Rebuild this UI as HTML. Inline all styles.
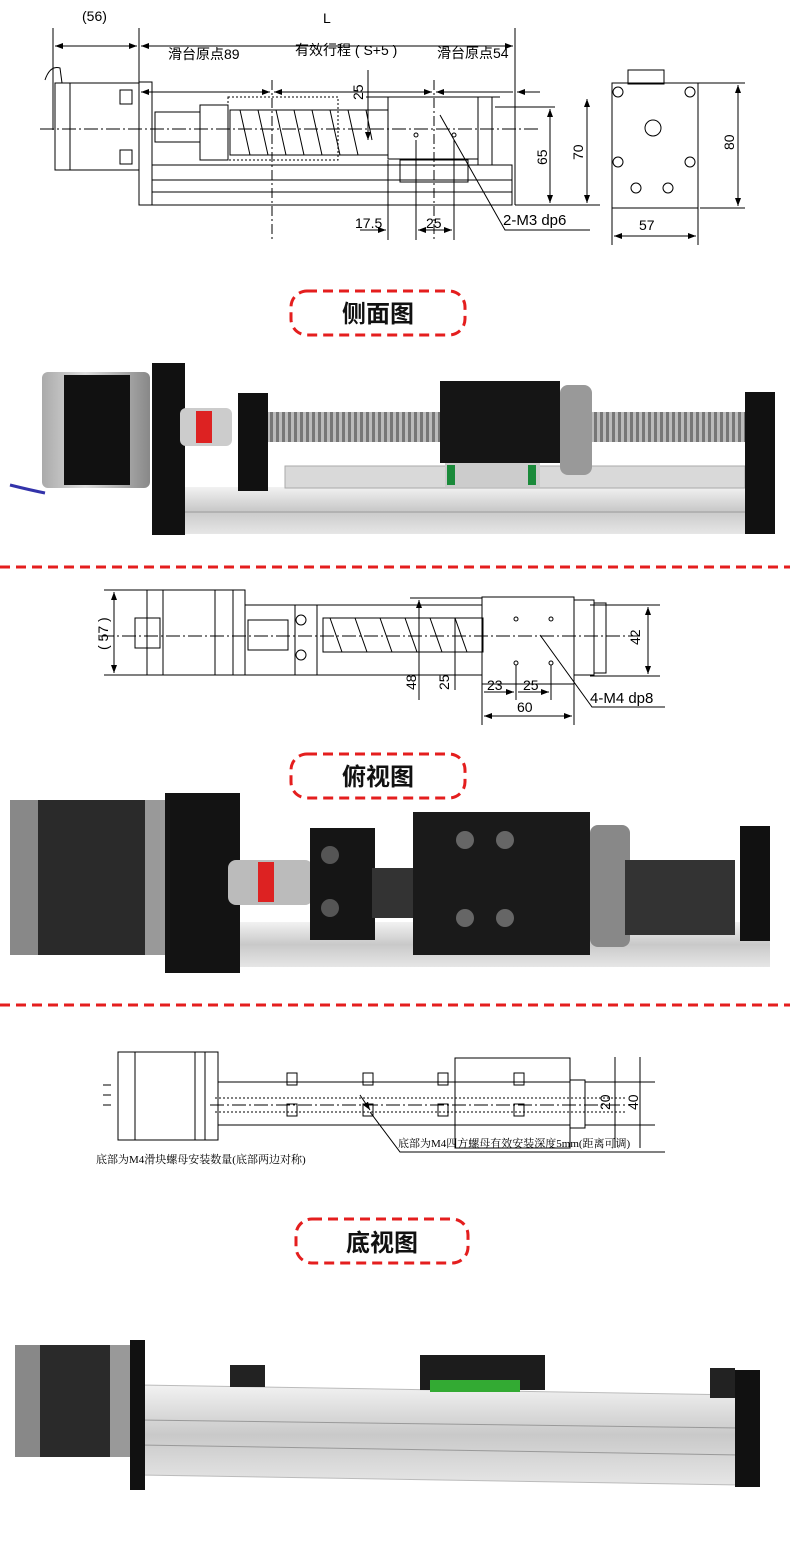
<!DOCTYPE html>
<html><head><meta charset="utf-8"><style>
body{margin:0;background:#fff;}
svg{display:block;font-family:"Liberation Sans","Noto Sans CJK SC",sans-serif;}
</style></head><body>
<svg width="790" height="1557" viewBox="0 0 790 1557" xmlns="http://www.w3.org/2000/svg">
<defs>
<marker id="a" markerWidth="8" markerHeight="6" refX="8" refY="3" orient="auto-start-reverse"><path d="M0,0L8,3L0,6z" fill="#000"/></marker>
<linearGradient id="al" x1="0" y1="0" x2="0" y2="1"><stop offset="0" stop-color="#f2f2f2"/><stop offset="0.5" stop-color="#c9c9c9"/><stop offset="1" stop-color="#e6e6e6"/></linearGradient>
<linearGradient id="mt" x1="0" y1="0" x2="1" y2="0"><stop offset="0" stop-color="#aaa"/><stop offset="0.4" stop-color="#ddd"/><stop offset="1" stop-color="#888"/></linearGradient>
<pattern id="sc" width="6" height="30" patternUnits="userSpaceOnUse"><rect width="6" height="30" fill="#bbb"/><rect width="3" height="30" fill="#777"/></pattern>
</defs>
<g fill="none" stroke="#000" stroke-width="1">
<!-- TOP DRAWING -->
<line x1="53" y1="28" x2="53" y2="130"/><line x1="139" y1="28" x2="139" y2="125"/><line x1="515" y1="28" x2="515" y2="205"/>
<line x1="55" y1="46" x2="137" y2="46" marker-start="url(#a)" marker-end="url(#a)"/>
<line x1="141" y1="46" x2="513" y2="46" marker-start="url(#a)" marker-end="url(#a)"/>
<line x1="141" y1="92" x2="270" y2="92" marker-start="url(#a)" marker-end="url(#a)"/>
<line x1="274" y1="92" x2="432" y2="92" marker-start="url(#a)" marker-end="url(#a)"/>
<line x1="436" y1="92" x2="513" y2="92" marker-start="url(#a)"/><line x1="517" y1="92" x2="540" y2="92" marker-start="url(#a)"/>
<line x1="272" y1="80" x2="272" y2="240" stroke-dasharray="10,3,2,3"/>
<line x1="434" y1="80" x2="434" y2="240" stroke-dasharray="10,3,2,3"/>
<line x1="40" y1="129" x2="540" y2="129" stroke-dasharray="14,3,2,3"/>
<rect x="55" y="83" width="84" height="87"/><line x1="70" y1="83" x2="70" y2="170"/><rect x="120" y="90" width="12" height="14"/><rect x="120" y="150" width="12" height="14"/>
<path d="M45,80 Q50,65 60,68 L62,83"/>
<rect x="139" y="82" width="13" height="123"/>
<rect x="155" y="112" width="45" height="30"/><rect x="200" y="105" width="28" height="55"/>
<rect x="228" y="97" width="110" height="63" stroke-dasharray="2,2"/>
<rect x="230" y="110" width="158" height="45"/>
<path d="M240,110l10,45M258,110l10,45M276,110l10,45M294,110l10,45M312,110l10,45M330,110l10,45M348,110l10,45M366,110l6,30"/>
<rect x="388" y="97" width="90" height="62"/><rect x="478" y="97" width="14" height="68"/>
<rect x="400" y="160" width="68" height="22"/>
<rect x="152" y="165" width="360" height="40"/><line x1="152" y1="180" x2="512" y2="180"/><line x1="152" y1="192" x2="512" y2="192"/>
<line x1="366" y1="97" x2="500" y2="97"/><line x1="495" y1="107" x2="555" y2="107"/><line x1="515" y1="205" x2="600" y2="205"/>
<line x1="550" y1="109" x2="550" y2="203" marker-start="url(#a)" marker-end="url(#a)"/>
<line x1="587" y1="99" x2="587" y2="203" marker-start="url(#a)" marker-end="url(#a)"/>
<line x1="368" y1="70" x2="368" y2="140" marker-end="url(#a)"/>
<line x1="388" y1="160" x2="388" y2="240"/><line x1="416" y1="140" x2="416" y2="240"/><line x1="454" y1="140" x2="454" y2="240"/>
<line x1="360" y1="230" x2="386" y2="230" marker-end="url(#a)"/><line x1="418" y1="230" x2="452" y2="230" marker-start="url(#a)" marker-end="url(#a)"/>
<circle cx="416" cy="135" r="2"/><circle cx="454" cy="135" r="2"/>
<path d="M440,115 L505,230 L590,230"/>
<rect x="612" y="83" width="86" height="125"/><rect x="628" y="70" width="36" height="14"/>
<circle cx="618" cy="92" r="5"/><circle cx="690" cy="92" r="5"/><circle cx="618" cy="162" r="5"/><circle cx="690" cy="162" r="5"/>
<circle cx="653" cy="128" r="8"/><circle cx="636" cy="188" r="5"/><circle cx="668" cy="188" r="5"/>
<line x1="698" y1="83" x2="745" y2="83"/><line x1="700" y1="208" x2="745" y2="208"/>
<line x1="738" y1="85" x2="738" y2="206" marker-start="url(#a)" marker-end="url(#a)"/>
<line x1="612" y1="208" x2="612" y2="245"/><line x1="698" y1="208" x2="698" y2="245"/>
<line x1="614" y1="236" x2="696" y2="236" marker-start="url(#a)" marker-end="url(#a)"/>
</g>
<g font-size="14" fill="#000">
<text x="82" y="21">(56)</text><text x="323" y="23">L</text>
<text x="168" y="59">滑台原点89</text><text x="295" y="55">有效行程 ( S+5 )</text><text x="437" y="58">滑台原点54</text>
<text x="355" y="228">17.5</text><text x="426" y="228">25</text><text x="503" y="225" font-size="15">2-M3 dp6</text>
<text x="639" y="230">57</text>
<text transform="translate(363,100) rotate(-90)">25</text>
<text transform="translate(547,165) rotate(-90)">65</text>
<text transform="translate(583,160) rotate(-90)">70</text>
<text transform="translate(734,150) rotate(-90)">80</text>
</g>

<!-- LABEL BOXES -->
<g fill="none" stroke="#e41e1e" stroke-width="3" stroke-dasharray="10,6">
<rect x="291" y="291" width="174" height="44" rx="16"/>
<rect x="291" y="754" width="174" height="44" rx="16"/>
<rect x="296" y="1219" width="172" height="44" rx="16"/>
<line x1="0" y1="567" x2="790" y2="567"/>
<line x1="0" y1="1005" x2="790" y2="1005"/>
</g>
<g font-size="24" font-weight="bold" fill="#111" text-anchor="middle">
<text x="378" y="322">侧面图</text><text x="378" y="785">俯视图</text><text x="382" y="1251">底视图</text>
</g>

<!-- PHOTO 1 -->
<rect x="175" y="487" width="585" height="47" fill="url(#al)"/>
<line x1="175" y1="512" x2="760" y2="512" stroke="#999"/>
<rect x="285" y="466" width="460" height="22" fill="#d9d9d9" stroke="#aaa"/>
<rect x="42" y="372" width="108" height="116" fill="url(#mt)" rx="6"/>
<rect x="64" y="375" width="66" height="110" fill="#111"/>
<rect x="152" y="363" width="33" height="172" fill="#111"/>
<rect x="180" y="408" width="52" height="38" fill="#ccc" rx="6"/><rect x="196" y="411" width="16" height="32" fill="#d22"/>
<rect x="238" y="393" width="30" height="98" fill="#111"/>
<rect x="268" y="412" width="172" height="30" fill="url(#sc)"/>
<rect x="592" y="412" width="153" height="30" fill="url(#sc)"/>
<rect x="440" y="381" width="120" height="82" fill="#151515"/>
<rect x="560" y="385" width="32" height="90" fill="#999" rx="8"/>
<rect x="445" y="463" width="95" height="24" fill="#ccc"/><rect x="447" y="465" width="8" height="20" fill="#1a8a3a"/><rect x="528" y="465" width="8" height="20" fill="#1a8a3a"/>
<rect x="745" y="392" width="30" height="142" fill="#111"/>
<path d="M10,485 Q30,490 45,493" stroke="#33a" stroke-width="3" fill="none"/>

<!-- TOP VIEW DRAWING -->
<g fill="none" stroke="#000">
<line x1="104" y1="590" x2="148" y2="590"/><line x1="104" y1="675" x2="148" y2="675"/>
<line x1="114" y1="592" x2="114" y2="673" marker-start="url(#a)" marker-end="url(#a)"/>
<rect x="147" y="590" width="98" height="85"/><line x1="163" y1="590" x2="163" y2="675"/><line x1="215" y1="590" x2="215" y2="675"/><line x1="233" y1="590" x2="233" y2="675"/>
<rect x="135" y="618" width="25" height="30"/>
<rect x="245" y="605" width="237" height="70"/><rect x="295" y="605" width="22" height="70"/>
<circle cx="301" cy="620" r="5"/><circle cx="301" cy="655" r="5"/>
<rect x="248" y="620" width="40" height="30"/>
<rect x="323" y="618" width="160" height="34"/>
<path d="M330,618l12,34M355,618l12,34M380,618l12,34M405,618l12,34M430,618l12,34M455,618l12,34"/>
<rect x="482" y="597" width="92" height="87"/><rect x="574" y="600" width="20" height="75"/><rect x="594" y="603" width="12" height="70"/>
<line x1="100" y1="636" x2="640" y2="636" stroke-dasharray="14,3,2,3"/>
<circle cx="516" cy="619" r="2"/><circle cx="551" cy="619" r="2"/><circle cx="516" cy="663" r="2"/><circle cx="551" cy="663" r="2"/>
<line x1="410" y1="598" x2="482" y2="598"/>
<line x1="419" y1="600" x2="419" y2="700" marker-start="url(#a)"/><line x1="455" y1="618" x2="455" y2="690"/>
<line x1="590" y1="605" x2="660" y2="605"/><line x1="590" y1="676" x2="660" y2="676"/>
<line x1="648" y1="607" x2="648" y2="674" marker-start="url(#a)" marker-end="url(#a)"/>
<line x1="482" y1="684" x2="482" y2="725"/><line x1="574" y1="684" x2="574" y2="725"/><line x1="516" y1="665" x2="516" y2="700"/><line x1="551" y1="665" x2="551" y2="700"/>
<line x1="484" y1="692" x2="514" y2="692" marker-end="url(#a)"/><line x1="518" y1="692" x2="549" y2="692" marker-end="url(#a)"/>
<line x1="484" y1="716" x2="572" y2="716" marker-start="url(#a)" marker-end="url(#a)"/>
<path d="M540,635 L592,707 L665,707"/>
</g>
<g font-size="14" fill="#000">
<text transform="translate(108,650) rotate(-90)">( 57 )</text>
<text transform="translate(416,690) rotate(-90)">48</text><text transform="translate(449,690) rotate(-90)">25</text>
<text transform="translate(640,645) rotate(-90)">42</text>
<text x="487" y="690">23</text><text x="523" y="690">25</text><text x="517" y="712">60</text>
<text x="590" y="703" font-size="15">4-M4 dp8</text>
</g>

<!-- PHOTO 2 -->
<rect x="240" y="922" width="530" height="45" fill="url(#al)" transform="skewY(0)"/>
<rect x="10" y="800" width="165" height="155" fill="#2a2a2a" rx="6"/>
<rect x="10" y="800" width="28" height="155" fill="#888"/><rect x="145" y="800" width="30" height="155" fill="#999"/>
<rect x="165" y="793" width="75" height="180" fill="#131313"/>
<rect x="228" y="860" width="85" height="45" fill="#bbb" rx="8"/><rect x="258" y="862" width="16" height="40" fill="#d22"/>
<rect x="310" y="828" width="65" height="112" fill="#151515"/>
<circle cx="330" cy="855" r="9" fill="#555"/><circle cx="330" cy="908" r="9" fill="#555"/>
<rect x="372" y="868" width="42" height="50" fill="#333"/>
<rect x="413" y="812" width="177" height="143" fill="#1a1a1a"/>
<circle cx="465" cy="840" r="9" fill="#666"/><circle cx="505" cy="840" r="9" fill="#666"/><circle cx="465" cy="918" r="9" fill="#666"/><circle cx="505" cy="918" r="9" fill="#666"/>
<rect x="590" y="825" width="40" height="122" fill="#888" rx="8"/>
<rect x="625" y="860" width="110" height="75" fill="#333"/>
<rect x="740" y="826" width="30" height="115" fill="#111"/>

<!-- BOTTOM DRAWING -->
<g fill="none" stroke="#000">
<rect x="118" y="1052" width="100" height="88"/><line x1="135" y1="1052" x2="135" y2="1140"/><line x1="195" y1="1052" x2="195" y2="1140"/><line x1="205" y1="1052" x2="205" y2="1140"/>
<path d="M103,1085h8M103,1095h8M103,1105h8"/>
<rect x="218" y="1082" width="352" height="43"/>
<rect x="455" y="1058" width="115" height="90"/>
<rect x="570" y="1080" width="15" height="48"/>
<line x1="210" y1="1105" x2="630" y2="1105" stroke-dasharray="14,3,2,3"/>
<line x1="215" y1="1098" x2="625" y2="1098" stroke-dasharray="2,2"/><line x1="215" y1="1112" x2="625" y2="1112" stroke-dasharray="2,2"/>
<rect x="287" y="1073" width="10" height="12"/><rect x="363" y="1073" width="10" height="12"/><rect x="438" y="1073" width="10" height="12"/><rect x="514" y="1073" width="10" height="12"/>
<rect x="287" y="1104" width="10" height="12"/><rect x="363" y="1104" width="10" height="12"/><rect x="438" y="1104" width="10" height="12"/><rect x="514" y="1104" width="10" height="12"/>
<line x1="585" y1="1082" x2="655" y2="1082"/><line x1="585" y1="1125" x2="655" y2="1125"/>
<line x1="615" y1="1057" x2="615" y2="1148"/><line x1="640" y1="1057" x2="640" y2="1148"/>
<line x1="360" y1="1095" x2="370" y2="1110" marker-end="url(#a)"/>
<path d="M370,1112 L400,1152 L665,1152"/>
</g>
<g font-size="11" fill="#000" font-family="'Liberation Serif','Noto Serif CJK SC',serif">
<text x="96" y="1163">底部为M4滑块螺母安装数量(底部两边对称)</text>
<text x="398" y="1147">底部为M4四方螺母有效安装深度5mm(距离可调)</text>
</g>
<g font-size="14"><text transform="translate(610,1110) rotate(-90)">20</text><text transform="translate(638,1110) rotate(-90)">40</text></g>

<!-- PHOTO 3 -->
<polygon points="140,1385 740,1395 740,1485 140,1475" fill="url(#al)" stroke="#bbb"/>
<line x1="140" y1="1420" x2="740" y2="1428" stroke="#999"/><line x1="140" y1="1445" x2="740" y2="1455" stroke="#999"/>
<rect x="15" y="1345" width="120" height="112" fill="#2a2a2a" rx="6"/><rect x="15" y="1345" width="25" height="112" fill="#888"/><rect x="110" y="1345" width="25" height="112" fill="#999"/>
<rect x="130" y="1340" width="15" height="150" fill="#111"/>
<rect x="230" y="1365" width="35" height="22" fill="#222"/>
<rect x="420" y="1355" width="125" height="35" fill="#1c1c1c"/><rect x="430" y="1380" width="90" height="12" fill="#3a3"/>
<rect x="710" y="1368" width="25" height="30" fill="#222"/>
<rect x="735" y="1370" width="25" height="117" fill="#111"/>
</svg>
</body></html>
